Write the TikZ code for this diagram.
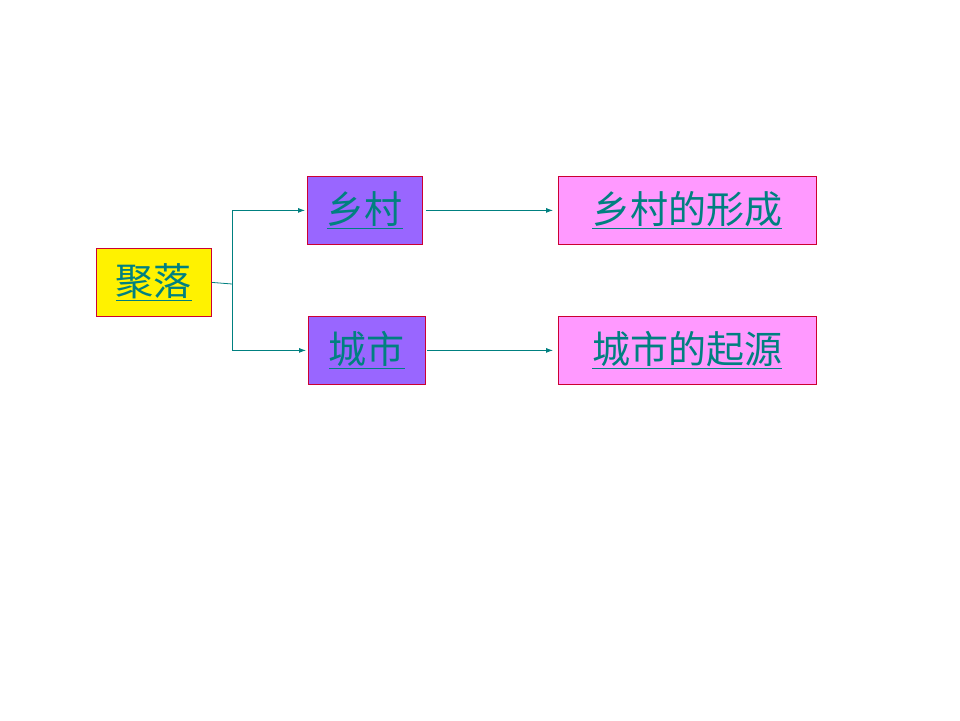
\documentclass[tikz,border=0pt]{standalone}
\usepackage{fontspec}
\newfontfamily\cjk{Noto Sans CJK SC}
\usetikzlibrary{arrows.meta}
\definecolor{tealtxt}{HTML}{008080}
\definecolor{purp}{HTML}{9966FF}
\definecolor{pinkb}{HTML}{FF99FF}
\definecolor{redb}{HTML}{CC0033}
\begin{document}
\begin{tikzpicture}[x=1pt,y=-1pt,
 box/.style={draw=redb,line width=0.8pt,anchor=north west,inner sep=0pt,font=\cjk\fontsize{38}{40}\selectfont,text=tealtxt},
 arr/.style={draw=tealtxt,line width=0.8pt,-{Latex[length=7pt,width=5pt]}}]
\useasboundingbox[fill=white] (0,0) rectangle (960,720);
\node[box,fill=yellow,minimum width=115pt,minimum height=68pt] (jl) at (96,248) {\underline{聚落}};
\node[box,fill=purp,minimum width=115pt,minimum height=68pt] (xc) at (307,176) {\underline{乡村}};
\node[box,fill=purp,minimum width=117pt,minimum height=68pt] (cs) at (308,316) {\underline{城市}};
\node[box,fill=pinkb,minimum width=258pt,minimum height=68pt] (xcf) at (558,176) {\underline{乡村的形成}};
\node[box,fill=pinkb,minimum width=258pt,minimum height=68pt] (csq) at (558,316) {\underline{城市的起源}};
\coordinate (br) at (232,284);
\draw[draw=tealtxt,line width=0.8pt] (jl.east) -- (br);
\draw[arr] (br) |- ([xshift=-2pt]xc.west);
\draw[arr] (br) |- ([xshift=-2pt]cs.west);
\draw[arr] ([xshift=3pt]xc.east) -- ([xshift=-5pt]xcf.west);
\draw[arr] ([xshift=1pt]cs.east) -- ([xshift=-5pt]csq.west);
\end{tikzpicture}
\end{document}
